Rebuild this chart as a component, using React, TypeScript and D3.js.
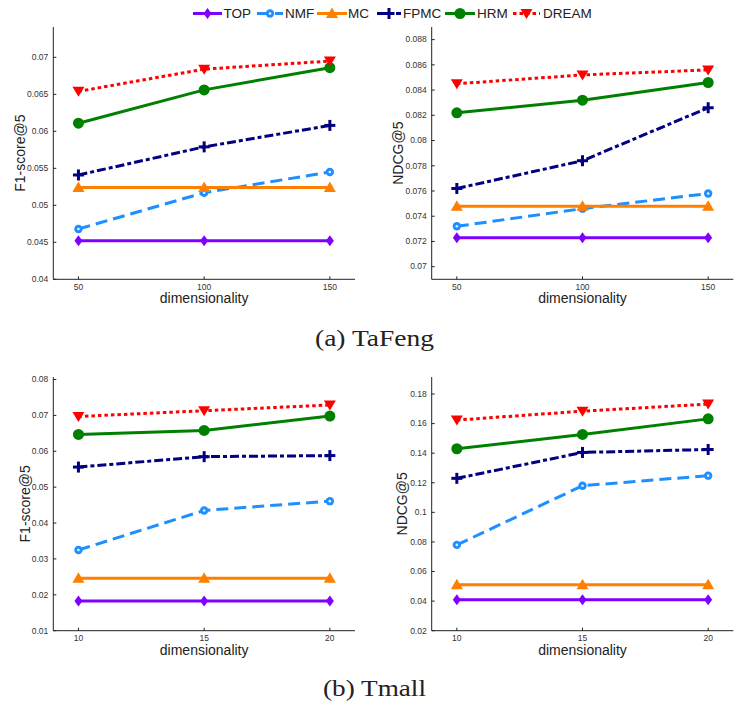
import * as d3 from 'd3';

// legend / series order
const methods = ['TOP', 'NMF', 'MC', 'FPMC', 'HRM', 'DREAM'];
const colors = ['#8000ff', '#1e8fff', '#ff8000', '#000080', '#008000', '#ff0000'];
const dashes = ['', '12,6', '', '9,3,4,3', '', '3.5,3'];

const tafengDims = [50, 100, 150];
const tmallDims = [10, 15, 20];

// one row per method, in the order of `methods`
const tafengF1 = [
  [0.0452, 0.0452, 0.0452],
  [0.0468, 0.0517, 0.0545],
  [0.0524, 0.0524, 0.0524],
  [0.0541, 0.0579, 0.0608],
  [0.0611, 0.0656, 0.0686],
  [0.0654, 0.0684, 0.0695],
];
const tafengNdcg = [
  [0.0723, 0.0723, 0.0723],
  [0.0732, 0.0746, 0.0758],
  [0.0748, 0.0748, 0.0748],
  [0.0762, 0.0784, 0.0826],
  [0.0822, 0.0832, 0.0846],
  [0.0845, 0.0852, 0.0856],
];
const tmallF1 = [
  [0.0183, 0.0183, 0.0183],
  [0.0325, 0.0435, 0.0461],
  [0.0246, 0.0246, 0.0246],
  [0.0556, 0.0585, 0.0588],
  [0.0647, 0.0658, 0.0698],
  [0.0697, 0.0713, 0.0729],
];
const tmallNdcg = [
  [0.041, 0.041, 0.041],
  [0.078, 0.118, 0.1248],
  [0.051, 0.051, 0.051],
  [0.123, 0.1405, 0.1425],
  [0.143, 0.1527, 0.1632],
  [0.1624, 0.1684, 0.1732],
];

const tafengF1Ticks = [0.04, 0.045, 0.05, 0.055, 0.06, 0.065, 0.07];
const tafengNdcgTicks = [0.07, 0.072, 0.074, 0.076, 0.078, 0.08, 0.082, 0.084, 0.086, 0.088];
const tmallF1Ticks = [0.01, 0.02, 0.03, 0.04, 0.05, 0.06, 0.07, 0.08];
const tmallNdcgTicks = [0.02, 0.04, 0.06, 0.08, 0.1, 0.12, 0.14, 0.16, 0.18];

const FONT = '"Liberation Sans", Arial, sans-serif';
const SERIF = '"Liberation Serif", "DejaVu Serif", serif';

function Marker({ i, x, y }: { i: number; x: number; y: number }) {
  const c = colors[i];
  const t = `translate(${x},${y})`;
  if (i === 0) return <path transform={t} d="M0,-5.5L4,0L0,5.5L-4,0Z" fill={c} />;
  if (i === 1)
    return (
      <g transform={t}>
        <circle r={4.2} fill={c} />
        <circle r={1.3} fill="#e6f2ff" />
      </g>
    );
  if (i === 2) return <path transform={t} d="M0,-6L6,4.5L-6,4.5Z" fill={c} />;
  if (i === 3)
    return (
      <g transform={t} stroke={c} strokeWidth={3}>
        <line x1={-5.5} x2={5.5} />
        <line y1={-5.5} y2={5.5} />
      </g>
    );
  if (i === 4) return <circle transform={t} r={5.5} fill={c} />;
  return <path transform={t} d="M-6,-4.5L6,-4.5L0,5.5Z" fill={c} />;
}

type PanelProps = {
  dims: number[];
  values: number[][];
  ticks: number[];
  xDomain: [number, number];
  yDomain: [number, number];
  left: number;
  right: number;
  top: number;
  bottom: number;
  ylabel: string;
  ylabelX: number;
};

function Panel(p: PanelProps) {
  const x = d3.scaleLinear().domain(p.xDomain).range([p.left, p.right]);
  const y = d3.scaleLinear().domain(p.yDomain).range([p.bottom, p.top]);
  const line = d3
    .line<number>()
    .x((_, j) => x(p.dims[j]))
    .y((v) => y(v));
  const fmt = d3.format('~g');
  const midY = (p.top + p.bottom) / 2;
  return (
    <g>
      {p.values.map((row, i) => (
        <path
          key={methods[i]}
          d={line(row) || ''}
          fill="none"
          stroke={colors[i]}
          strokeWidth={3}
          strokeDasharray={dashes[i] || undefined}
        />
      ))}
      {p.values.map((row, i) =>
        row.map((v, j) => <Marker key={methods[i] + j} i={i} x={x(p.dims[j])} y={y(v)} />)
      )}
      <line x1={p.left} x2={p.left} y1={p.top} y2={p.bottom} stroke="#222" />
      <line x1={p.left} x2={p.right} y1={p.bottom} y2={p.bottom} stroke="#222" />
      {p.ticks.map((t) => (
        <g key={t}>
          <line x1={p.left} x2={p.left + 3} y1={y(t)} y2={y(t)} stroke="#222" />
          <text
            x={p.left - 5}
            y={y(t)}
            dy="0.33em"
            textAnchor="end"
            fontSize={8.5}
            fill="#333"
            fontFamily={FONT}
          >
            {fmt(t)}
          </text>
        </g>
      ))}
      {p.dims.map((d) => (
        <g key={d}>
          <line x1={x(d)} x2={x(d)} y1={p.bottom} y2={p.bottom - 3} stroke="#222" />
          <text x={x(d)} y={p.bottom + 10.5} textAnchor="middle" fontSize={8.5} fill="#333" fontFamily={FONT}>
            {d}
          </text>
        </g>
      ))}
      <text
        x={(p.left + p.right) / 2}
        y={p.bottom + 24}
        textAnchor="middle"
        fontSize={14}
        fill="#222"
        fontFamily={FONT}
      >
        dimensionality
      </text>
      <text
        transform={`translate(${p.ylabelX},${midY}) rotate(-90)`}
        dy="0.35em"
        textAnchor="middle"
        fontSize={14}
        fill="#222"
        fontFamily={FONT}
      >
        {p.ylabel}
      </text>
    </g>
  );
}

// legend layout: line start, line end, text start
const legendPos = [
  [193, 222, 223.5],
  [257, 283, 285],
  [317, 347, 348],
  [377, 401, 403],
  [445, 475, 477],
  [513, 540, 543],
];

export default function App() {
  return (
    <svg
      width={748}
      height={702}
      style={{ position: 'absolute', left: 0, top: 0, background: '#fff' }}
    >
      <rect width={748} height={702} fill="#fff" />
      <g>
        {methods.map((m, i) => {
          const [a, b, t] = legendPos[i];
          return (
            <g key={m}>
              <line
                x1={a}
                x2={b}
                y1={13.5}
                y2={13.5}
                stroke={colors[i]}
                strokeWidth={3}
                strokeDasharray={dashes[i] || undefined}
              />
              <Marker i={i} x={(a + b) / 2} y={13.5} />
              <text x={t} y={13.5} dy="0.36em" fontSize={13.5} fill="#222" fontFamily={FONT}>
                {m}
              </text>
            </g>
          );
        })}
      </g>
      <Panel
        dims={tafengDims}
        values={tafengF1}
        ticks={tafengF1Ticks}
        xDomain={[40, 160]}
        yDomain={[0.04, 0.0741]}
        left={53.3}
        right={355}
        top={27}
        bottom={279.3}
        ylabel="F1-score@5"
        ylabelX={20}
      />
      <Panel
        dims={tafengDims}
        values={tafengNdcg}
        ticks={tafengNdcgTicks}
        xDomain={[40, 160]}
        yDomain={[0.069, 0.089]}
        left={431.7}
        right={733.3}
        top={27}
        bottom={279.3}
        ylabel="NDCG@5"
        ylabelX={398.5}
      />
      <Panel
        dims={tmallDims}
        values={tmallF1}
        ticks={tmallF1Ticks}
        xDomain={[9, 21]}
        yDomain={[0.01, 0.0807]}
        left={53.3}
        right={355}
        top={377}
        bottom={630.7}
        ylabel="F1-score@5"
        ylabelX={25}
      />
      <Panel
        dims={tmallDims}
        values={tmallNdcg}
        ticks={tmallNdcgTicks}
        xDomain={[9, 21]}
        yDomain={[0.02, 0.1915]}
        left={431.7}
        right={733.3}
        top={377}
        bottom={630.7}
        ylabel="NDCG@5"
        ylabelX={402}
      />
      <text
        x={315}
        y={346}
        fontSize={23}
        fill="#222"
        fontFamily={SERIF}
        textLength={119}
        lengthAdjust="spacingAndGlyphs"
      >
        (a) TaFeng
      </text>
      <text
        x={323}
        y={696}
        fontSize={23}
        fill="#222"
        fontFamily={SERIF}
        textLength={103}
        lengthAdjust="spacingAndGlyphs"
      >
        (b) Tmall
      </text>
    </svg>
  );
}
